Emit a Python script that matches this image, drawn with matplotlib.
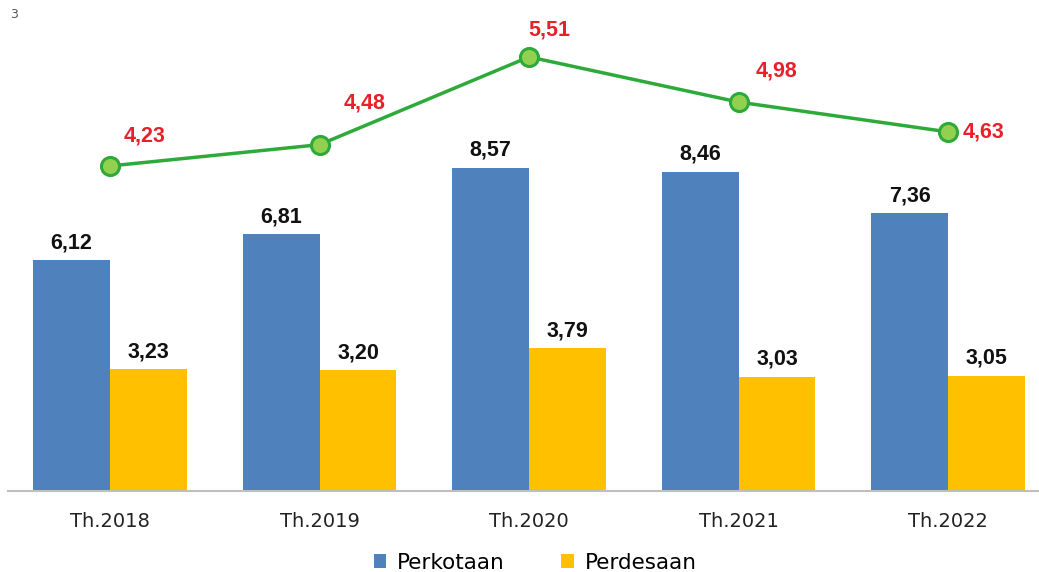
import numpy as np
import matplotlib.pyplot as plt

# data
years = ["Th.2018", "Th.2019", "Th.2020", "Th.2021", "Th.2022"]
perkotaan = [6.12, 6.81, 8.57, 8.46, 7.36]
perdesaan = [3.23, 3.20, 3.79, 3.03, 3.05]
total = [4.23, 4.48, 5.51, 4.98, 4.63]

BLUE = "#4F81BD"
YELLOW = "#FFC000"
GREEN = "#2EAA3A"
LGREEN = "#92D050"
RED = "#E8202A"

W, H = 1039, 572
fig = plt.figure(figsize=(W / 100, H / 100), dpi=100)
ax = fig.add_axes([8 / W, 1 - 491 / H, 1 - 8 / W, 491 / H])

x = np.arange(len(years))
bw = 0.367
b1 = ax.bar(x - bw / 2, perkotaan, bw, color=BLUE, label="Perkotaan")
b2 = ax.bar(x + bw / 2, perdesaan, bw, color=YELLOW, label="Perdesaan")

lab_font = dict(family=["Liberation Sans", "DejaVu Sans"],
                fontsize=15.5, fontweight="bold")
for bars in (b1, b2):
    for r in bars:
        v = r.get_height()
        ax.annotate(f"{v:.2f}".replace(".", ","), (r.get_x() + r.get_width() / 2, v),
                    xytext=(0, 7), textcoords="offset pixels", ha="center", va="bottom",
                    color="#111111", **lab_font)

ax.set_xlim(-0.487, 4.434)
ax.set_ylim(0, 13.02)
ax.set_yticks([])
for s in ("top", "right", "left"):
    ax.spines[s].set_visible(False)
ax.spines["bottom"].set_color("#BFBFBF")
ax.spines["bottom"].set_linewidth(1.5)
ax.set_xticks(x)
ax.set_xticklabels(years, fontsize=14, color="#222222")
ax.tick_params(axis="x", length=0, pad=15)

# line on secondary scale
ax2 = ax.twinx()
ax2.set_ylim(0.415, 6.178)
ax2.axis("off")
ax2.plot(x, total, color=GREEN, lw=2.5, marker="o", ms=13,
         mfc=LGREEN, mec=GREEN, mew=2.2)
offs = [(35, 30), (45, 42), (20, 27), (38, 31), (35, 0)]
for i, v in enumerate(total):
    dx, dy = offs[i]
    ax2.annotate(f"{v:.2f}".replace(".", ","), (x[i], v), xytext=(dx, dy),
                 textcoords="offset pixels", ha="center", va="center",
                 color=RED, **lab_font)

fig.legend(handles=[b1, b2], loc="lower center", bbox_to_anchor=(0.515, -0.035),
           ncol=2, frameon=False, fontsize=15.5, handlelength=0.6, handleheight=0.6,
           handletextpad=0.5, columnspacing=2.6)

fig.text(10 / W, 1 - 14 / H, "3", fontsize=9, color="#555555", va="center")

fig.savefig("out.png", dpi=100)
